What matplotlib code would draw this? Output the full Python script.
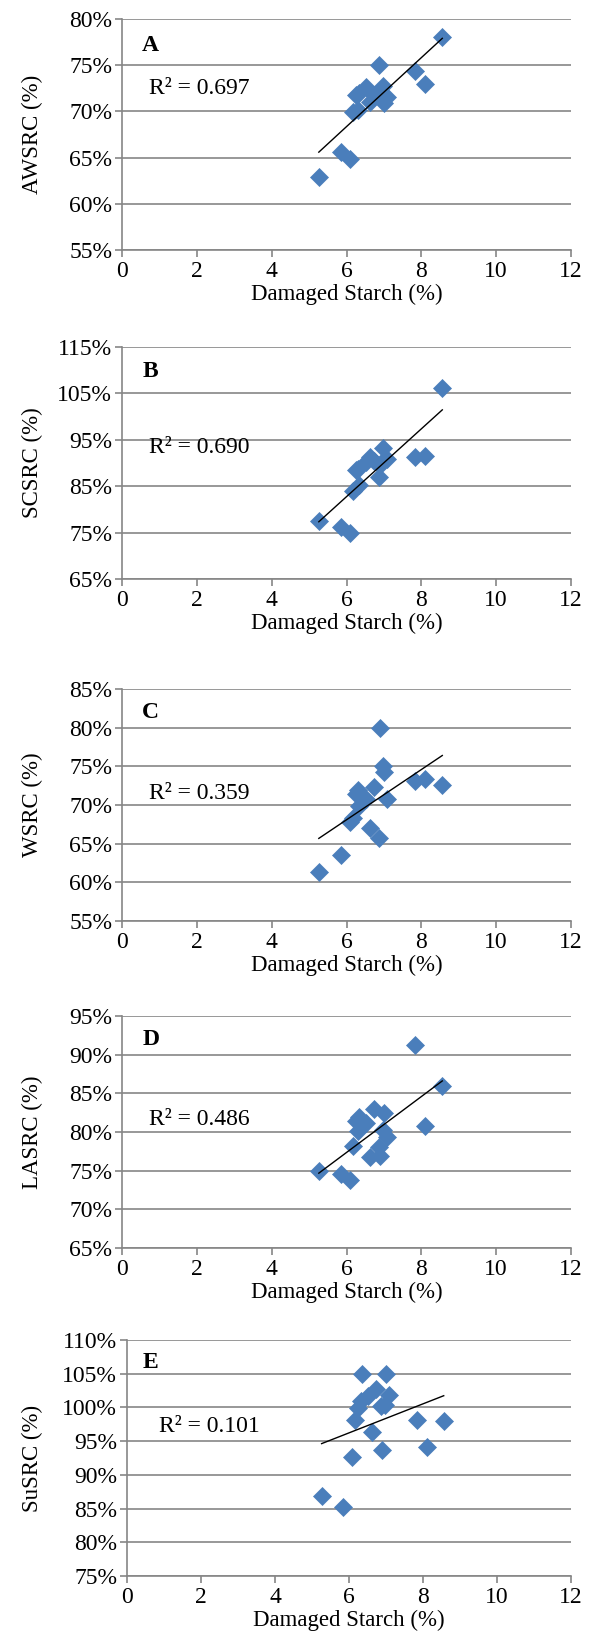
import numpy as np
import matplotlib
matplotlib.use("Agg")
import matplotlib.pyplot as plt

plt.rcParams['font.family'] = ['Liberation Serif', 'DejaVu Serif']

# Damaged starch (%) – shared x values
damaged_starch = [5.26, 5.85, 6.09, 6.17, 6.25, 6.32, 6.34, 6.52, 6.62,
                  6.73, 6.87, 6.89, 6.97, 6.99, 7.07, 7.83, 8.11, 8.56]

awsrc = [62.9, 65.6, 64.8, 69.9, 71.8, 70.2, 72.0, 72.6, 71.0,
         71.8, 75.0, 72.2, 72.8, 70.9, 71.6, 74.4, 73.0, 78.0]
scsrc = [77.5, 76.3, 75.0, 84.0, 88.5, 88.8, 85.3, 90.2, 91.4,
         90.5, 87.0, 89.5, 93.3, 90.6, 90.8, 91.3, 91.5, 106.1]
wsrc = [61.3, 63.5, 67.8, 68.3, 71.4, 72.0, 69.9, 70.8, 67.0,
        72.3, 65.7, 80.0, 75.1, 74.3, 70.8, 73.1, 73.3, 72.6]
lasrc = [75.0, 74.6, 73.8, 78.2, 81.4, 80.1, 81.9, 81.2, 76.8,
         83.0, 78.0, 76.9, 80.3, 82.4, 79.3, 91.2, 80.8, 86.0]
susrc = [86.9, 85.3, 92.6, 98.1, 99.9, 100.9, 105.0, 101.7, 96.3,
         102.8, 100.2, 93.7, 100.4, 105.0, 101.9, 98.2, 94.1, 98.0]

panel_letters = ["A", "B", "C", "D", "E"]
y_labels = ["AWSRC (%)", "SCSRC (%)", "WSRC (%)", "LASRC (%)", "SuSRC (%)"]
r2_texts = ["R² = 0.697", "R² = 0.690", "R² = 0.359", "R² = 0.486", "R² = 0.101"]
y_ticks = [
    [55, 60, 65, 70, 75, 80],
    [65, 75, 85, 95, 105, 115],
    [55, 60, 65, 70, 75, 80, 85],
    [65, 70, 75, 80, 85, 90, 95],
    [75, 80, 85, 90, 95, 100, 105, 110],
]
x_ticks = [0, 2, 4, 6, 8, 10, 12]
x_label = "Damaged Starch (%)"

series = [awsrc, scsrc, wsrc, lasrc, susrc]

# layout (pixels)
W, H = 590, 1634
tops = [19, 347, 689, 1016, 1340]
heights = [231, 232, 232, 232, 236]
lefts = [122, 122, 122, 122, 127]
right = 571
r2_pos = [(0.06, 0.698), (0.06, 0.567), (0.06, 0.55), (0.06, 0.555), (0.072, 0.632)]
letter_pos = [(0.045, 0.887), (0.045, 0.893), (0.045, 0.897), (0.045, 0.9), (0.036, 0.905)]
ylab_x = [-0.2, -0.2, -0.2, -0.2, -0.214]

grid_col = '#868686'
marker_col = '#4a7ebb'

fig = plt.figure(figsize=(W / 100, H / 100), dpi=100)

for i in range(5):
    l, t, h = lefts[i], tops[i], heights[i]
    ax = fig.add_axes([l / W, 1 - (t + h) / H, (right - l) / W, h / H])
    x = np.array(damaged_starch)
    y = np.array(series[i])
    ax.plot(x, y, linestyle='none', marker='D', markersize=9.3,
            color=marker_col, markeredgecolor=marker_col, markeredgewidth=0.5, zorder=3)
    coef = np.polyfit(x, y, 1)
    xs = np.array([x.min(), x.max()])
    ax.plot(xs, np.polyval(coef, xs), color='black', linewidth=1.0, zorder=4)

    yt = y_ticks[i]
    ax.set_ylim(yt[0], yt[-1])
    ax.set_xlim(x_ticks[0], x_ticks[-1])
    ax.set_yticks(yt)
    ax.set_yticklabels([f"{v}%" for v in yt])
    ax.set_xticks(x_ticks)
    ax.set_xticklabels([str(v) for v in x_ticks])
    ax.grid(axis='y', color=grid_col, linewidth=1.2, zorder=0)
    ax.set_axisbelow(True)
    for s in ['top', 'right']:
        ax.spines[s].set_visible(False)
    for s in ['left', 'bottom']:
        ax.spines[s].set_color(grid_col)
        ax.spines[s].set_linewidth(1.2)
    ax.tick_params(axis='both', direction='out', length=5, width=1.2,
                   color=grid_col, labelsize=17, pad=2)
    ax.tick_params(axis='x', pad=3)
    ax.set_xlabel(x_label, fontsize=16.5, labelpad=1)
    ax.set_ylabel(y_labels[i], fontsize=16.5)
    ax.yaxis.label.set_va('center')
    ax.yaxis.set_label_coords(ylab_x[i], 0.5)

    ax.text(r2_pos[i][0], r2_pos[i][1], r2_texts[i], transform=ax.transAxes,
            fontsize=17, ha='left', va='center')
    ax.text(letter_pos[i][0], letter_pos[i][1], panel_letters[i], transform=ax.transAxes,
            fontsize=17, fontweight='bold', ha='left', va='center')

fig.savefig("out.png", dpi=100)
